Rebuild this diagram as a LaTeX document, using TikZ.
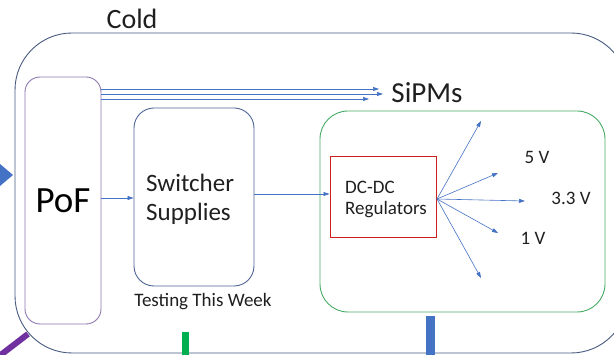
\documentclass[tikz,border=0pt]{standalone}
\usepackage{fontspec}
\setmainfont{Carlito}
\usetikzlibrary{arrows.meta}
\definecolor{coldc}{RGB}{72,90,128}
\definecolor{pofc}{RGB}{140,120,175}
\definecolor{swc}{RGB}{78,100,150}
\definecolor{grc}{RGB}{70,170,100}
\definecolor{rdc}{RGB}{205,30,30}
\definecolor{arc}{RGB}{68,114,196}
\definecolor{purp}{RGB}{112,48,160}
\definecolor{grbar}{RGB}{0,176,80}
\tikzset{
  boxline/.style={draw, line width=0.9pt},
  conn/.style={draw=arc, line width=0.6pt, -{Triangle[length=6pt,width=4pt]}},
  lbl/.style={inner sep=0pt, text=black!88},
}
\begin{document}
\begin{tikzpicture}[x=1pt,y=-1pt]
\useasboundingbox (0,0) rectangle (614,355);
\clip (0,0) rectangle (614,355);
% outer cold box
\node[boxline, draw=coldc, rounded corners=57pt, minimum width=613pt, minimum height=320pt, inner sep=0pt] (cold) at (321.5,193) {};
\node[lbl, font=\fontsize{28}{32}\selectfont] (coldlbl) at (132,19) {Cold};
% PoF
\node[boxline, draw=pofc, rounded corners=15pt, minimum width=76pt, minimum height=247pt, inner sep=0pt, font=\fontsize{37}{40}\selectfont] (pof) at (63,200.5) {PoF};
% Switcher
\node[boxline, draw=swc, rounded corners=20pt, minimum width=120pt, minimum height=178pt, inner sep=0pt] (sw) at (194,197) {};
\node[lbl, anchor=west, align=left, font=\fontsize{25}{29}\selectfont] (swtext) at (146,199) {Switcher\\Supplies};
\node[lbl, font=\fontsize{19}{22}\selectfont] (test) at (203,302) {Testing This Week};
% green box
\node[boxline, draw=grc, rounded corners=28pt, minimum width=285pt, minimum height=201pt, inner sep=0pt] (green) at (462.5,211.5) {};
% DC-DC
\node[boxline, draw=rdc, line width=1pt, minimum width=106pt, minimum height=81pt, inner sep=0pt] (dc) at (383,197.5) {};
\node[lbl, anchor=west, align=left, font=\fontsize{19}{21}\selectfont] (dctext) at (345,199) {DC-DC\\Regulators};
% SiPMs
\node[lbl, font=\fontsize{29}{32}\selectfont] (sipm) at (427,93) {SiPMs};
\coordinate (s1) at (379,89);
\coordinate (s2) at (383,94);
\coordinate (s3) at (369,99);
\draw[conn] (pof.east |- s1) -- (s1);
\draw[conn] (pof.east |- s2) -- (s2);
\draw[conn] (pof.east |- s3) -- (s3);
% PoF -> Switcher -> DC-DC
\draw[conn] (pof.east |- {(0,198)}) -- (sw.west |- {(0,198)});
\draw[conn] (sw.east |- {(0,194)}) -- (dc.west |- {(0,194)});
% fan
\coordinate (fo) at (437,199);
\coordinate (f1) at (481,121);
\coordinate (f2) at (498,173);
\coordinate (f3) at (525,201);
\coordinate (f4) at (498,233);
\coordinate (f5) at (481,278);
\foreach \f in {f1,f2,f3,f4,f5} \draw[conn] (fo) -- (\f);
\node[lbl, font=\fontsize{19}{22}\selectfont] (v5) at (537,157) {5 V};
\node[lbl, font=\fontsize{19}{22}\selectfont] (v33) at (571,198) {3.3 V};
\node[lbl, font=\fontsize{19}{22}\selectfont] (v1) at (533,238) {1 V};
% external markers
\coordinate (tipin) at (13,175);
\fill[arc] (0,164) -- (tipin) -- (0,186) -- cycle;
\coordinate (pb) at (28,334);
\draw[purp, line width=6pt] (-2,357) -- (pb);
\coordinate (gb) at (185,332);
\draw[grbar, line width=7pt] (gb) -- (185,358);
\draw[arc, line width=9pt] (430,316) -- (430,358);
\end{tikzpicture}
\end{document}
